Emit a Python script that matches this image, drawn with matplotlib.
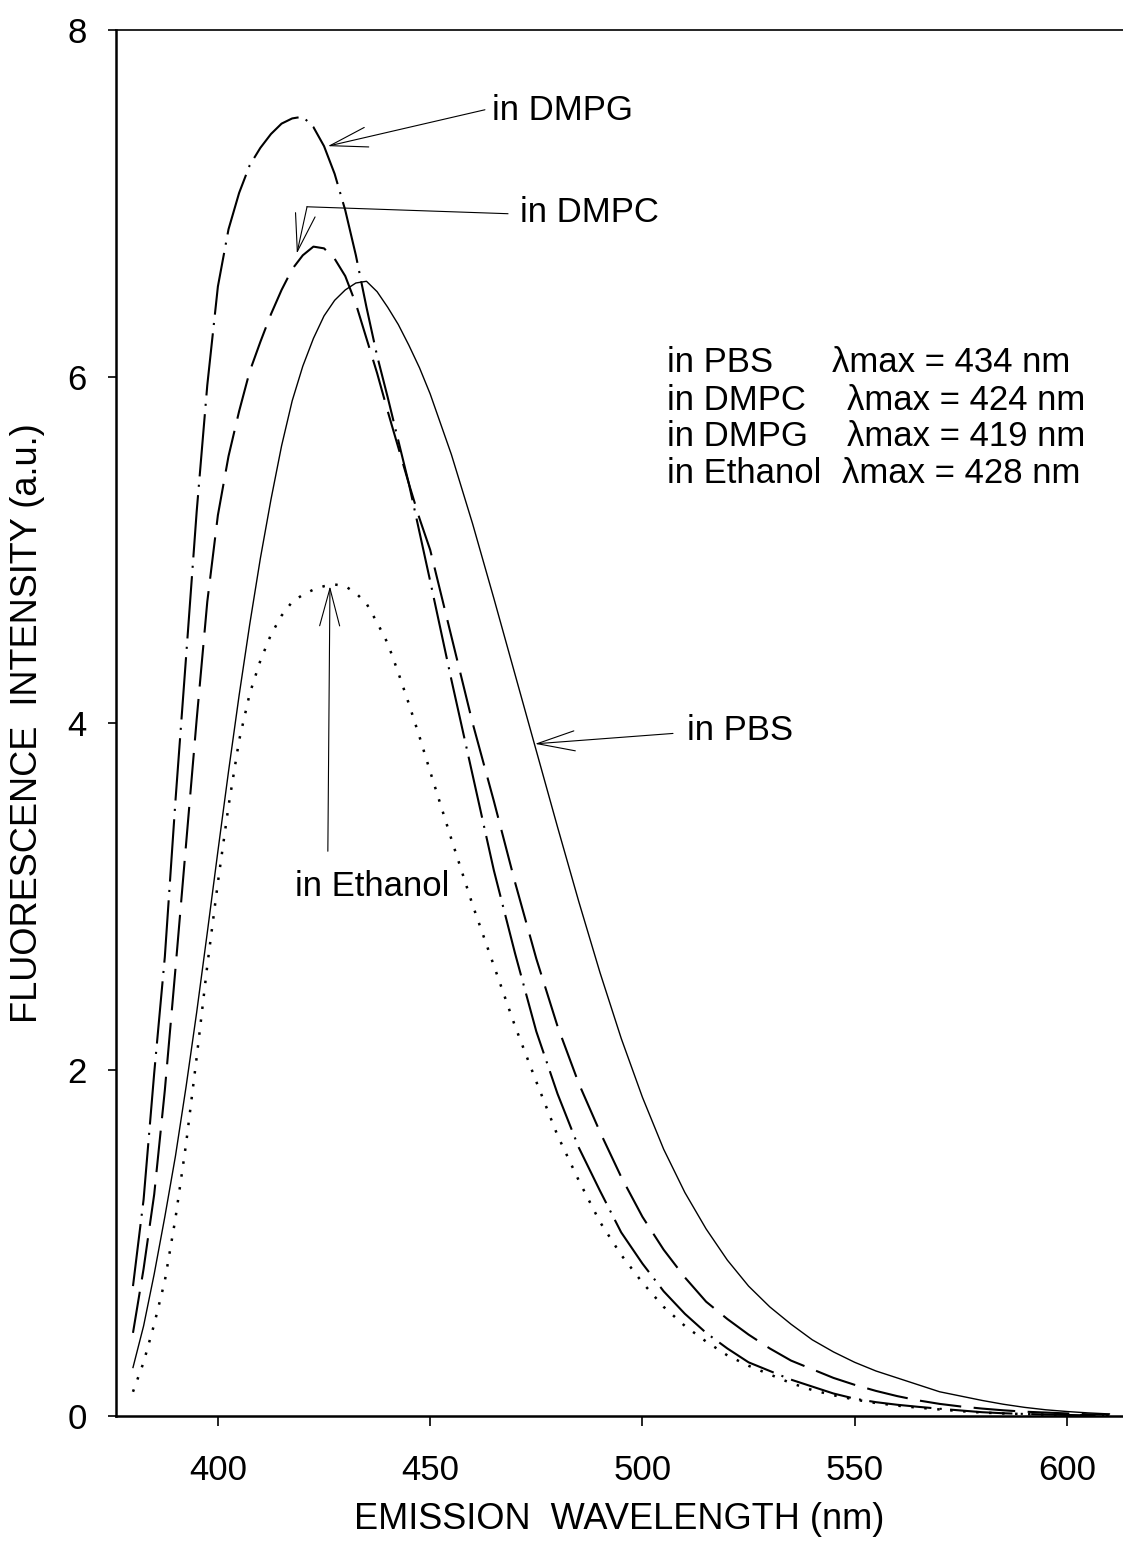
import matplotlib
matplotlib.use("Agg")
import matplotlib.pyplot as plt

plt.rcParams['font.family'] = ['Liberation Sans', 'DejaVu Sans']

# emission wavelength (nm)
wavelength = [380, 382.5, 385, 387.5, 390, 392.5, 395, 397.5, 400, 402.5,
              405, 407.5, 410, 412.5, 415, 417.5, 420, 422.5, 425, 427.5,
              430, 432.5, 435, 437.5, 440, 442.5, 445, 447.5, 450, 455,
              460, 465, 470, 475, 480, 485, 490, 495, 500, 505,
              510, 515, 520, 525, 530, 535, 540, 545, 550, 555,
              560, 565, 570, 575, 580, 585, 590, 595, 600, 605, 610]

# fluorescence intensity (a.u.)
pbs = [0.28, 0.52, 0.82, 1.15, 1.50, 1.90, 2.33, 2.79, 3.26, 3.72,
       4.16, 4.57, 4.95, 5.29, 5.60, 5.86, 6.06, 6.22, 6.35, 6.44,
       6.50, 6.54, 6.55, 6.49, 6.40, 6.30, 6.18, 6.05, 5.90, 5.55,
       5.15, 4.72, 4.28, 3.84, 3.40, 2.97, 2.56, 2.18, 1.84, 1.54,
       1.29, 1.08, 0.90, 0.75, 0.63, 0.53, 0.44, 0.37, 0.31, 0.26,
       0.22, 0.18, 0.14, 0.115, 0.09, 0.068, 0.05, 0.036, 0.026, 0.018, 0.012]

dmpc = [0.48, 0.85, 1.28, 1.88, 2.58, 3.30, 4.02, 4.70, 5.20, 5.54,
        5.80, 6.03, 6.20, 6.36, 6.50, 6.62, 6.70, 6.75, 6.74, 6.68,
        6.58, 6.42, 6.22, 6.02, 5.80, 5.59, 5.38, 5.18, 5.00, 4.50,
        4.00, 3.55, 3.08, 2.64, 2.25, 1.92, 1.64, 1.38, 1.15, 0.96,
        0.80, 0.66, 0.56, 0.47, 0.39, 0.32, 0.27, 0.22, 0.18, 0.145,
        0.115, 0.09, 0.07, 0.055, 0.043, 0.033, 0.025, 0.02, 0.015, 0.01, 0.008]

dmpg = [0.75, 1.25, 1.98, 2.65, 3.55, 4.38, 5.22, 5.95, 6.52, 6.85,
        7.06, 7.22, 7.32, 7.40, 7.46, 7.49, 7.50, 7.44, 7.33, 7.17,
        6.96, 6.70, 6.40, 6.12, 5.88, 5.63, 5.38, 5.10, 4.82, 4.25,
        3.70, 3.15, 2.67, 2.22, 1.86, 1.55, 1.30, 1.06, 0.88, 0.72,
        0.59, 0.48, 0.39, 0.31, 0.26, 0.21, 0.17, 0.13, 0.10, 0.08,
        0.065, 0.053, 0.042, 0.032, 0.022, 0.016, 0.012, 0.009, 0.006, 0.004, 0.003]

ethanol = [0.14, 0.31, 0.53, 0.78, 1.14, 1.57, 2.07, 2.60, 3.08, 3.52,
           3.90, 4.17, 4.36, 4.51, 4.62, 4.70, 4.74, 4.77, 4.79, 4.80,
           4.79, 4.75, 4.69, 4.58, 4.46, 4.29, 4.11, 3.92, 3.72, 3.33,
           2.95, 2.60, 2.25, 1.93, 1.62, 1.36, 1.12, 0.93, 0.77, 0.63,
           0.52, 0.43, 0.35, 0.29, 0.24, 0.19, 0.15, 0.12, 0.095, 0.075,
           0.06, 0.048, 0.038, 0.028, 0.02, 0.015, 0.011, 0.008, 0.005, 0.004, 0.003]

lambda_max = [("in PBS", "\u03bbmax = 434 nm"),
              ("in DMPC", "\u03bbmax = 424 nm"),
              ("in DMPG", "\u03bbmax = 419 nm"),
              ("in Ethanol", "\u03bbmax = 428 nm")]

fig = plt.figure(figsize=(11.23, 15.42), dpi=100)
ax = fig.add_axes([0.1033, 0.0817, 0.8967, 0.8988])

ax.plot(wavelength, pbs, color='black', lw=1.0, ls='-')
ax.plot(wavelength, dmpc, color='black', lw=1.5, ls=(0, (20, 6)))
ax.plot(wavelength, dmpg, color='black', lw=1.5, ls=(0, (30, 4, 1, 4)))
ax.plot(wavelength, ethanol, color='black', lw=1.8, ls=(0, (1, 4.2)))

ax.set_xlim(376, 613.2)
ax.set_ylim(0, 8)
ax.set_xticks([400, 450, 500, 550, 600])
ax.set_yticks([0, 2, 4, 6, 8])
ax.tick_params(axis='x', direction='out', length=7, width=1.2, pad=20, labelsize=25)
ax.tick_params(axis='y', direction='out', length=6, width=1.2, pad=15, labelsize=25)

ax.spines['right'].set_visible(False)
ax.spines['top'].set_linewidth(1.2)
ax.spines['left'].set_linewidth(1.8)
ax.spines['bottom'].set_linewidth(1.8)

ax.set_xlabel("EMISSION  WAVELENGTH (nm)", fontsize=26)
ax.xaxis.set_label_coords(0.5, -0.062)
ax.set_ylabel("FLUORESCENCE  INTENSITY (a.u.)", fontsize=26)
ax.yaxis.set_label_coords(-0.0705, 0.5)

# curve labels with open arrows
arrow = dict(arrowstyle='->,head_length=1.35,head_width=0.36', color='black',
             lw=0.8, shrinkA=0, shrinkB=0, mutation_scale=20)

ax.annotate('', xy=(425.9, 7.33), xytext=(462.9, 7.54), arrowprops=arrow)
ax.text(464.6, 7.48, "in DMPG", fontsize=25, va='baseline', ha='left')

ax.plot([468.3, 421.0], [6.94, 6.98], color='black', lw=0.8)
ax.annotate('', xy=(418.6, 6.71), xytext=(421.0, 6.98), arrowprops=arrow)
ax.text(471.2, 6.89, "in DMPC", fontsize=25, va='baseline', ha='left')

ax.annotate('', xy=(474.7, 3.88), xytext=(507.2, 3.94), arrowprops=arrow)
ax.text(510.5, 3.90, "in PBS", fontsize=25, va='baseline', ha='left')

ax.annotate('', xy=(426.4, 4.79), xytext=(425.9, 3.26), arrowprops=arrow)
ax.text(418.2, 3.00, "in Ethanol", fontsize=25, va='baseline', ha='left')

# lambda max block
rows_y = [6.026, 5.807, 5.599, 5.385]
value_x = [544.7, 548.2, 548.2, 547.0]
for (name, val), yy, vx in zip(lambda_max, rows_y, value_x):
    ax.text(505.8, yy, name, fontsize=25, va='baseline', ha='left')
    ax.text(vx, yy, val, fontsize=25, va='baseline', ha='left')

fig.savefig("out.png", dpi=100)
